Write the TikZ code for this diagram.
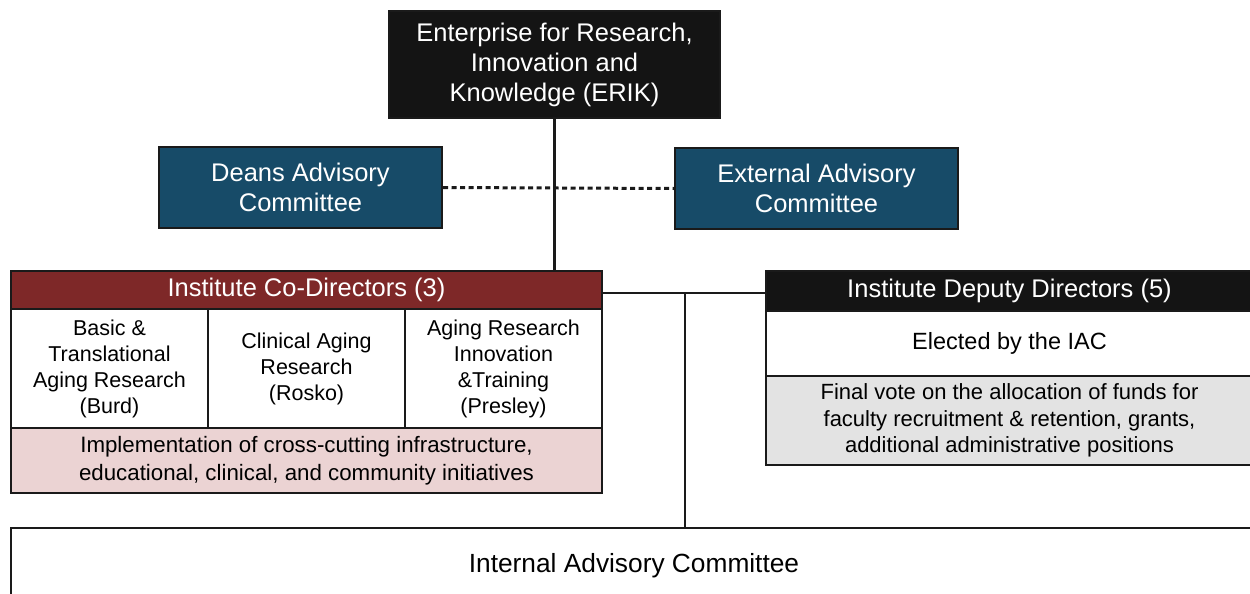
\documentclass[tikz,border=0pt]{standalone}
\usepackage{fontspec}
\setmainfont{Liberation Sans}
\definecolor{erikfill}{HTML}{141414}
\definecolor{teal}{HTML}{174B68}
\definecolor{darkred}{HTML}{7E2828}
\definecolor{pinkfill}{HTML}{EBD3D3}
\definecolor{grayfill}{HTML}{E3E3E3}
\definecolor{edge}{HTML}{1A1A1A}
\begin{document}
\begin{tikzpicture}[x=1pt,y=-1pt,
  box/.style={draw=edge, line width=2pt, inner sep=0pt, align=center, anchor=north west},
  conn/.style={draw=edge, line width=2.2pt}
]
\useasboundingbox (0,0) rectangle (1250,594);
\clip (0,0) rectangle (1250,594);
% connectors first (behind boxes)
\coordinate (j) at (685,293);
% top
\node[box, fill=erikfill, text=white, minimum width=331pt, minimum height=107pt,
  font=\fontsize{25.5}{30}\selectfont] (erik) at (388,10)
  {Enterprise for Research,\\Innovation and\\Knowledge (ERIK)};
\node[box, fill=teal, text=white, minimum width=283pt, minimum height=81pt,
  font=\fontsize{25.5}{30}\selectfont] (deans) at (158,146)
  {Deans Advisory\\Committee};
\node[box, fill=teal, text=white, minimum width=283pt, minimum height=81pt,
  font=\fontsize{25.5}{30}\selectfont] (ext) at (674,147)
  {External Advisory\\Committee};
% co-directors
\node[box, fill=darkred, text=white, minimum width=591pt, minimum height=38pt,
  font=\fontsize{25.5}{30}\selectfont] (codir) at (10,270)
  {Institute Co-Directors (3)};
\node[box, fill=white, minimum width=197pt, minimum height=119pt,
  font=\fontsize{21.5}{26}\selectfont] (c1) at (10,308)
  {Basic \&\\Translational\\Aging Research\\(Burd)};
\node[box, fill=white, minimum width=197pt, minimum height=119pt,
  font=\fontsize{21.5}{26}\selectfont] (c2) at (207,308)
  {Clinical Aging\\Research\\(Rosko)};
\node[box, fill=white, minimum width=197pt, minimum height=119pt,
  font=\fontsize{21.5}{26}\selectfont] (c3) at (404,308)
  {Aging Research\\Innovation\\\&Training\\(Presley)};
\node[box, fill=pinkfill, minimum width=591pt, minimum height=65pt,
  font=\fontsize{22.3}{28}\selectfont] (impl) at (10,427)
  {Implementation of cross-cutting infrastructure,\\educational, clinical, and community initiatives};
% deputy directors
\node[box, fill=erikfill, text=white, minimum width=487pt, minimum height=40pt,
  font=\fontsize{25.5}{30}\selectfont] (dep) at (765,270)
  {Institute Deputy Directors (5)};
\node[box, fill=white, minimum width=487pt, minimum height=65pt,
  font=\fontsize{23.5}{28}\selectfont] (elect) at (765,310)
  {Elected by the IAC};
\node[box, fill=grayfill, minimum width=487pt, minimum height=89pt,
  font=\fontsize{22}{26.5}\selectfont] (vote) at (765,375)
  {Final vote on the allocation of funds for\\faculty recruitment \& retention, grants,\\additional administrative positions};
% IAC
\node[box, fill=white, minimum width=1246pt, minimum height=76pt,
  font=\fontsize{26.3}{30}\selectfont] (iac) at (10,527)
  {Internal Advisory Committee};
% connectors
\draw[conn] (erik.south) -- (erik.south |- codir.north);
\draw[conn, line width=3pt, dash pattern=on 5pt off 3.5pt] (deans.east) -- (ext.west);
\draw[conn] (codir.east |- j) -- (dep.west |- j);
\draw[conn] (j) -- (j |- iac.north);
\end{tikzpicture}
\end{document}
